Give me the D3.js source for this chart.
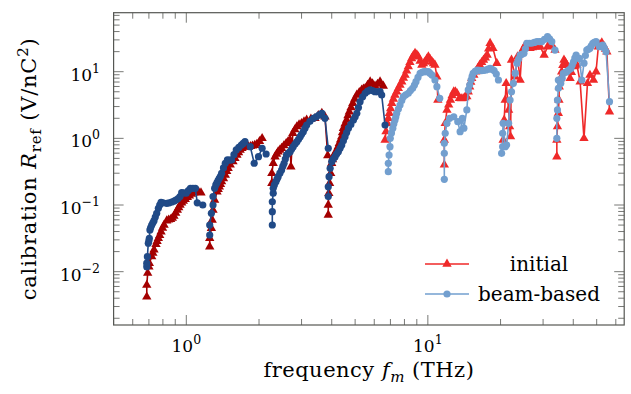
<!DOCTYPE html>
<html>
<head>
<meta charset="utf-8">
<script src="https://cdn.jsdelivr.net/npm/d3@7"></script>
<style>
  body { margin: 0; background: #fff; }
  svg { display: block; }
  text { font-family: "DejaVu Serif", serif; fill: #000; }
</style>
</head>
<body>
<svg id="chart" width="631" height="394"></svg>
<script>
// frequency band segments, [f (THz), R_ref (V/nC^2)]
const ini1 = [[0.686,0.0042],[0.686,0.0063],[0.692,0.0095],[0.70,0.0118],[0.703,0.0134],[0.719,0.0168],[0.727,0.019],[0.735,0.0212],[0.749,0.0258],[0.757,0.0285],[0.766,0.0317],[0.776,0.035],[0.786,0.0398],[0.797,0.045],[0.809,0.0501],[0.83,0.0582],[0.845,0.06],[0.861,0.061],[0.875,0.064],[0.889,0.0685],[0.904,0.076],[0.918,0.0843],[0.93,0.092],[0.942,0.1],[0.957,0.108],[0.972,0.115],[0.99,0.122],[1.01,0.13],[1.03,0.138],[1.05,0.146],[1.075,0.152],[1.10,0.158],[1.125,0.157],[1.15,0.153]];
const beam1 = [[0.686,0.0119],[0.686,0.0134],[0.690,0.0168],[0.696,0.0267],[0.70,0.029],[0.703,0.0317],[0.707,0.0423],[0.712,0.046],[0.719,0.0501],[0.727,0.054],[0.735,0.0582],[0.744,0.066],[0.754,0.0752],[0.766,0.0893],[0.776,0.1],[0.786,0.11],[0.80,0.108],[0.83,0.106],[0.85,0.108],[0.87,0.111],[0.89,0.114],[0.906,0.119],[0.925,0.125],[0.942,0.134],[0.957,0.153],[0.978,0.152],[0.999,0.15],[1.02,0.165],[1.04,0.178],[1.065,0.178],[1.09,0.178],[1.11,0.108],[1.17,0.1]];
const ini2 = [[1.25,0.0237],[1.25,0.0317],[1.27,0.0448],[1.28,0.0597],[1.29,0.0843],[1.31,0.119],[1.34,0.158],[1.355,0.172],[1.37,0.188],[1.385,0.205],[1.40,0.224],[1.425,0.25],[1.45,0.282],[1.47,0.32],[1.49,0.356],[1.52,0.4],[1.56,0.447],[1.59,0.5],[1.62,0.563],[1.645,0.61],[1.67,0.67],[1.70,0.71],[1.73,0.75],[1.77,0.75],[1.81,0.75],[1.845,0.76],[1.88,0.77],[1.92,0.79],[1.96,0.82],[2.01,0.9],[2.06,1.0]];
const beam2 = [[1.25,0.0355],[1.25,0.0501],[1.27,0.0752],[1.29,0.1],[1.29,0.134],[1.31,0.178],[1.325,0.2],[1.34,0.216],[1.355,0.235],[1.37,0.251],[1.385,0.27],[1.40,0.299],[1.425,0.36],[1.45,0.423],[1.48,0.474],[1.51,0.47],[1.54,0.474],[1.575,0.57],[1.61,0.67],[1.65,0.73],[1.69,0.794],[1.72,0.84],[1.75,0.891],[1.84,0.75],[1.91,0.423],[1.99,0.531],[2.06,0.71],[2.14,0.582]];
const ini3 = [[2.26,0.212],[2.26,0.299],[2.29,0.423],[2.33,0.531],[2.365,0.58],[2.40,0.631],[2.44,0.67],[2.48,0.71],[2.535,0.78],[2.59,0.843],[2.64,0.9],[2.69,0.946],[2.71,0.376],[2.76,1.19],[2.815,1.35],[2.87,1.50],[2.93,1.6],[3.0,1.68],[3.07,1.78],[3.15,1.89],[3.28,1.95],[3.41,2.0],[3.52,2.2],[3.64,2.38],[3.75,2.11],[3.85,0.55]];
const beam3 = [[2.27,0.0501],[2.27,0.0794],[2.27,0.112],[2.29,0.15],[2.29,0.178],[2.315,0.2],[2.35,0.224],[2.375,0.245],[2.40,0.266],[2.44,0.3],[2.48,0.335],[2.51,0.38],[2.54,0.423],[2.57,0.49],[2.60,0.563],[2.645,0.6],[2.69,0.631],[2.73,0.69],[2.77,0.75],[2.82,0.82],[2.87,0.891],[2.915,0.97],[2.96,1.06],[3.0,1.15],[3.05,1.26],[3.1,1.42],[3.15,1.58],[3.25,1.8],[3.36,2.0],[3.45,2.11],[3.55,2.25],[3.64,2.38],[3.75,2.0],[3.87,0.71]];
const ini4 = [[3.87,0.071],[3.87,0.1],[3.89,0.15],[3.92,0.212],[3.96,0.299],[4.0,0.423],[4.03,0.48],[4.06,0.531],[4.13,0.6],[4.20,0.67],[4.25,0.75],[4.30,0.843],[4.35,0.95],[4.40,1.06],[4.43,1.22],[4.47,1.42],[4.54,1.65],[4.61,1.89],[4.67,2.2],[4.73,2.51],[4.81,2.9],[4.89,3.36],[4.98,3.9],[5.08,4.47],[5.2,4.9],[5.32,5.32],[5.41,5.5],[5.50,5.63],[5.63,6.3],[5.77,7.08],[5.9,6.6],[6.04,6.1],[6.19,6.5],[6.34,7.08],[6.54,6.1]];
const beam4 = [[3.87,0.134],[3.87,0.188],[3.90,0.266],[3.94,0.356],[4.0,0.447],[4.06,0.49],[4.13,0.531],[4.19,0.58],[4.26,0.631],[4.33,0.71],[4.40,0.794],[4.47,0.92],[4.54,1.06],[4.61,1.22],[4.69,1.42],[4.8,1.62],[4.92,1.89],[5.0,2.1],[5.08,2.38],[5.16,2.9],[5.24,3.55],[5.37,4.2],[5.50,4.74],[5.63,5.1],[5.77,5.32],[5.9,5.2],[6.04,5.01],[6.19,5.0],[6.34,5.01],[6.44,4.47],[6.65,1.58]];
const ini5 = [[6.65,0.946],[6.71,1.26],[6.80,1.68],[6.86,2.0],[6.93,2.38],[7.01,2.8],[7.09,3.36],[7.2,3.9],[7.31,4.47],[7.43,5.0],[7.55,5.63],[7.67,6.3],[7.80,7.08],[7.92,8.0],[8.05,8.91],[8.17,10.3],[8.30,11.9],[8.43,13.8],[8.57,15.8],[8.71,17.5],[8.85,18.9],[9.0,18.0],[9.14,16.8],[9.29,14.5],[9.44,12.6],[9.59,13.2],[9.74,14.1],[9.9,15.5],[10.05,16.8],[10.2,15.5],[10.4,14.1],[10.55,13.3],[10.7,12.6],[10.9,8.41],[11.0,3.76]];
const beam5 = [[6.86,0.316],[6.86,0.423],[6.91,0.563],[6.97,0.75],[6.99,1.0],[7.07,1.2],[7.16,1.42],[7.23,1.65],[7.31,1.89],[7.37,2.1],[7.43,2.38],[7.55,2.75],[7.67,3.16],[7.8,3.7],[7.92,4.22],[8.1,4.5],[8.30,4.74],[8.47,5.2],[8.65,5.63],[8.8,6.3],[8.93,7.08],[9.1,8.2],[9.29,9.46],[9.46,9.8],[9.64,10],[9.85,10],[10.05,10],[10.2,9.5],[10.4,8.91],[10.7,7.51],[10.9,5.96],[11.2,3.99]];
const ini6 = [[11.7,0.4],[11.7,0.946],[11.8,1.68],[12.0,2.67],[12.2,3.2],[12.4,3.76],[12.6,4.4],[12.8,5.01],[13.0,5.0],[13.2,4.74],[13.5,3.99],[13.75,3.95],[14.0,3.99],[14.25,4.1],[14.5,4.22],[14.7,5.0],[14.9,5.96],[15.05,7.0],[15.2,7.96],[15.5,8.9],[15.8,10],[16.1,11.3],[16.4,12.6],[16.7,13.8],[17.0,15.0],[17.3,16.2],[17.6,17.8],[17.85,22],[18.1,26.7],[18.6,22.4],[19.3,13.4]];
const beam6 = [[11.7,0.243],[11.7,0.597],[11.7,0.843],[11.8,1.19],[12.0,1.68],[12.3,2.0],[12.8,2.11],[13.3,1.78],[13.6,1.26],[13.9,2.0],[14.1,1.42],[14.5,2.67],[14.7,5.32],[14.9,6.3],[15.1,7.51],[15.25,8.5],[15.4,9.46],[15.7,10.1],[16.0,10.6],[16.35,10.5],[16.7,10.4],[17.05,10.5],[17.4,10.6],[17.75,10.9],[18.1,11.2],[18.45,10.8],[18.8,10.4],[19.2,9.2],[19.6,7.51]];
const ini7 = [[20.5,0.946],[20.7,1.89],[20.9,3.76],[21.1,6.68],[21.6,2.67],[21.8,1.5],[22.0,1.06],[22.2,15],[23.0,8.41],[23.5,16.8],[24.1,7.51],[24.5,19.9],[24.9,22.5],[25.3,25.1],[25.9,23.5],[26.5,22.4],[27.1,23.0],[27.8,23.7],[28.5,23.7],[29.2,23.7],[30.3,17.8],[31.3,23.7],[31.9,24.5],[32.6,25.1],[33.6,21.1]];
const beam7 = [[20.2,0.597],[20.4,0.75],[20.4,1.19],[20.5,1.68],[20.9,0.75],[21.2,0.794],[21.6,1.68],[21.9,3.76],[22.2,5.0],[22.6,6.68],[23.0,9.5],[23.4,13.4],[23.75,15.5],[24.1,17.8],[24.5,18.2],[25.0,18.9],[25.35,22],[25.7,26.7],[26.3,26.7],[26.9,26.7],[27.6,27.5],[28.3,28.2],[29.0,28.2],[29.6,28.2],[30.4,30.5],[31.3,33.5],[31.9,31],[32.6,28.2],[33.6,21.1]];
const ini8 = [[34.2,0.531],[34.2,0.946],[34.4,1.5],[34.7,2.38],[34.9,3.76],[35.0,5.96],[35.4,7.9],[35.8,10],[36.2,12.5],[36.6,15],[37.1,13.8],[37.6,12.6],[38.2,10.0],[38.8,7.96],[39.3,9.8],[39.8,11.9],[40.6,12.2],[41.4,12.6],[42.7,7.08],[44.3,1.0],[45.8,6.68],[46.9,8.91],[48.5,7.51],[49.7,10],[50.8,23.7],[51.6,25.5],[52.5,27.3],[53.7,23.7],[54.4,21.8],[55.1,19.9],[56.5,2.51]];
const beam8 = [[34.2,1.0],[34.2,2.0],[34.4,2.67],[34.4,3.76],[34.7,5.63],[34.7,7.51],[35.5,6.68],[36.0,8.0],[36.4,9.46],[37.0,9.7],[37.6,10],[38.3,10.6],[39.1,11.2],[39.6,12.6],[40.1,14.1],[40.6,16],[41.1,17.8],[42.4,15.8],[43.4,7.51],[44.3,13.4],[44.9,17.5],[45.5,21.1],[46.2,21.8],[46.9,22.4],[47.5,24.5],[48.2,26.7],[48.9,27.5],[49.7,28.2],[51.3,23.7],[52.1,24.4],[53.0,25.1],[53.8,22.5],[54.7,19.9],[56.5,3.55]];

const initialSegs = [ini1, ini2, ini3, ini4, ini5, ini6, ini7, ini8];
const beamSegs = [beam1, beam2, beam3, beam4, beam5, beam6, beam7, beam8];
const xTicks = [1, 10];
const yTicks = [0.01, 0.1, 1, 10];
const legendLabels = ['initial', 'beam-based'];

// first four bands drawn in the dark shades
const redDark = '#a40000', redLight = '#ef2929';
const blueDark = '#204a87', blueLight = '#729fcf';
const frameColor = '#555753';

const svg = d3.select('#chart');
const pL = 113.6, pR = 624.2, pT = 12.7, pB = 325;

const x = d3.scaleLog().domain([0.5, 65]).range([pL, pR]);
const y = d3.scaleLog().domain([Math.pow(10, -2.8), Math.pow(10, 1.885)]).range([pB, pT]);

// minor / major ticks on all four sides, pointing inward
const isMajor = (list, d) => list.some(t => Math.abs(t - d) / t < 1e-6);
const xMinor = x.ticks().filter(d => !isMajor(xTicks, d));
const yMinor = y.ticks().filter(d => !isMajor(yTicks, d));

const tickG = svg.append('g').attr('stroke', frameColor).attr('stroke-width', 0.8);
function xTick(v, len) {
  tickG.append('line').attr('x1', x(v)).attr('x2', x(v)).attr('y1', pB).attr('y2', pB - len);
  tickG.append('line').attr('x1', x(v)).attr('x2', x(v)).attr('y1', pT).attr('y2', pT + len);
}
function yTick(v, len) {
  tickG.append('line').attr('y1', y(v)).attr('y2', y(v)).attr('x1', pL).attr('x2', pL + len);
  tickG.append('line').attr('y1', y(v)).attr('y2', y(v)).attr('x1', pR).attr('x2', pR - len);
}
xMinor.forEach(v => xTick(v, 6));
xTicks.forEach(v => xTick(v, 10));
yMinor.forEach(v => yTick(v, 6));
yTicks.forEach(v => yTick(v, 10));

svg.append('rect')
  .attr('x', pL).attr('y', pT)
  .attr('width', pR - pL).attr('height', pB - pT)
  .attr('fill', 'none').attr('stroke', frameColor).attr('stroke-width', 1.2);

// tick labels as 10^k
function expLabel(sel, v) {
  const k = Math.round(Math.log10(v));
  sel.append('tspan').text('10');
  sel.append('tspan').attr('dy', -8).attr('font-size', 12.5).text(k < 0 ? '\u2212' + (-k) : String(k));
}
xTicks.forEach(v => {
  const t = svg.append('text').attr('x', x(v)).attr('y', 352)
    .attr('text-anchor', 'middle').attr('font-size', 17);
  expLabel(t, v);
});
yTicks.forEach(v => {
  const t = svg.append('text').attr('x', 100).attr('y', y(v) + 9)
    .attr('text-anchor', 'end').attr('font-size', 17);
  expLabel(t, v);
});

// axis titles
const xl = svg.append('text').attr('x', (pL + pR) / 2).attr('y', 377)
  .attr('text-anchor', 'middle').attr('font-size', 21).attr('letter-spacing', 0.5);
xl.append('tspan').text('frequency ');
xl.append('tspan').attr('font-style', 'italic').text('f');
xl.append('tspan').attr('font-style', 'italic').attr('font-size', 15).attr('dy', 5).text('m');
xl.append('tspan').attr('dy', -5).text(' (THz)');

const yl = svg.append('text')
  .attr('transform', `translate(36, ${(pT + pB) / 2}) rotate(-90)`)
  .attr('text-anchor', 'middle').attr('font-size', 21).attr('letter-spacing', 0.8);
yl.append('tspan').text('calibration ');
yl.append('tspan').attr('font-style', 'italic').text('R');
yl.append('tspan').attr('font-size', 15).attr('dy', 5).text('ref');
yl.append('tspan').attr('dy', -5).text(' (V/nC');
yl.append('tspan').attr('font-size', 15).attr('dy', -8).text('2');
yl.append('tspan').attr('dy', 8).text(')');

// data
const line = d3.line().x(d => x(d[0])).y(d => y(d[1]));
const tri = d3.symbol(d3.symbolTriangle).size(38);
const plotG = svg.append('g');

function drawSeg(data, color, mark) {
  const g = plotG.append('g');
  g.append('path').datum(data).attr('d', line)
    .attr('fill', 'none').attr('stroke', color).attr('stroke-width', 1.6);
  if (mark === 'tri') {
    g.selectAll('path.m').data(data).enter().append('path').attr('class', 'm')
      .attr('d', tri).attr('transform', d => `translate(${x(d[0])},${y(d[1])})`)
      .attr('fill', color);
  } else {
    g.selectAll('circle').data(data).enter().append('circle')
      .attr('cx', d => x(d[0])).attr('cy', d => y(d[1])).attr('r', 3.6)
      .attr('fill', color);
  }
}
initialSegs.forEach((s, i) => drawSeg(s, i < 4 ? redDark : redLight, 'tri'));
beamSegs.forEach((s, i) => drawSeg(s, i < 4 ? blueDark : blueLight, 'circ'));

// legend
const legG = svg.append('g');
[[redLight, 'tri', 264], [blueLight, 'circ', 294]].forEach((l, i) => {
  legG.append('line').attr('x1', 425).attr('x2', 469).attr('y1', l[2]).attr('y2', l[2])
    .attr('stroke', l[0]).attr('stroke-width', 1.6);
  if (l[1] === 'tri') {
    legG.append('path').attr('d', tri).attr('transform', `translate(447,${l[2]})`).attr('fill', l[0]);
  } else {
    legG.append('circle').attr('cx', 447).attr('cy', l[2]).attr('r', 3.6).attr('fill', l[0]);
  }
  legG.append('text').attr('x', 539).attr('y', l[2] + 7).attr('text-anchor', 'middle')
    .attr('font-size', 20).text(legendLabels[i]);
});
</script>
</body>
</html>
